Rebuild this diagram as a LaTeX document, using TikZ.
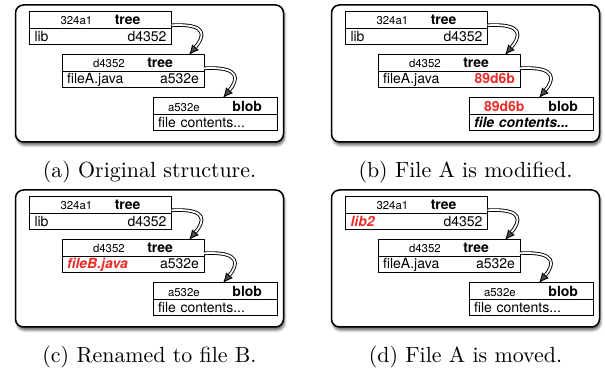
\documentclass[tikz,border=0pt]{standalone}
\usepackage{fontspec}
\setsansfont{TeX Gyre Heros}
\usetikzlibrary{positioning,calc,arrows.meta,shadows.blur}
\definecolor{chg}{RGB}{235,45,40}

\newcommand\hashfont{\fontsize{5.7}{6.5}\selectfont}
\newcommand\chgid[1]{{\fontsize{7}{8}\selectfont\bfseries\color{chg}#1}}
\newcommand\chgname[1]{{\bfseries\itshape\color{chg}#1}}

\tikzset{
  panel/.style={draw, fill=white, line width=0.75pt, rounded corners=4pt,
    blur shadow={shadow xshift=0.6pt, shadow yshift=-1.6pt,
      shadow blur radius=1.2pt, shadow opacity=60}},
  objbox/.style={draw, line width=0.5pt, outer sep=0pt, inner ysep=0pt,
    minimum height=8.25pt, anchor=north west,
    font=\sffamily\fontsize{7}{8}\selectfont},
  treehead/.style={objbox, text width=40pt, inner xsep=15.5pt},
  treerow/.style={objbox, text width=66pt, inner xsep=2.5pt},
  blobhead/.style={objbox, text width=47pt, inner xsep=7.5pt},
  blobrow/.style={objbox, text width=57pt, inner xsep=2.5pt},
  ref/.style={double, double distance=0.9pt, line width=0.45pt,
    -{Latex[length=5pt,width=4.5pt]}},
  caption/.style={font=\rmfamily\fontsize{10.95}{13}\selectfont}
}

% one panel: name, shift x, shift y, dir, file, blob id, contents, caption
\newcommand\gitpanel[8]{%
  \begin{scope}[shift={(#2,#3)}]
    \draw[panel] (15.5,5) rectangle (283.5,142);

    \node[treehead] (#1-rooth) at (29.5,12) {{\hashfont 324a1}\hfill\textbf{tree}};
    \node[treerow, below=0pt of #1-rooth] (#1-root) {#4\hfill d4352};

    \node[treehead] (#1-subh) at ($(#1-root.south west)+(32.5,10)$) {{\hashfont d4352}\hfill\textbf{tree}};
    \node[treerow, below=0pt of #1-subh] (#1-sub) {#5\hfill #6};

    \node[blobhead] (#1-blobh) at ($(#1-sub.south west)+(91,10)$) {{\hashfont #6}\hfill\textbf{blob}};
    \node[blobrow, below=0pt of #1-blobh] (#1-blob) {#7};

    \draw[ref] ($(#1-rooth.east)+(0,5)$) .. controls +(38,-2) and +(15,-18) .. ($(#1-subh.north east)+(-15,0)$);
    \draw[ref] ($(#1-subh.east)+(0,5)$) .. controls +(38,-2) and +(15,-18) .. ($(#1-blobh.north west)+(70,0)$);

    \node[caption] (#1-cap) at (149.5,172.5) {#8};
  \end{scope}}

\begin{document}
\begin{tikzpicture}[x=0.5pt, y=-0.5pt]
  \useasboundingbox (0,0) rectangle (605,373);

  \gitpanel{a}{0}{0}{lib}{fileA.java}{a532e}{file contents...}{(a) Original structure.}
  \gitpanel{b}{316}{0}{lib}{fileA.java}{\chgid{89d6b}}{\textbf{\textit{file contents...}}}{(b) File A is modified.}
  \gitpanel{c}{0}{185}{lib}{\chgname{fileB.java}}{a532e}{file contents...}{(c) Renamed to file B.}
  \gitpanel{d}{316}{185}{\chgname{lib2}}{fileA.java}{a532e}{file contents...}{(d) File A is moved.}

\end{tikzpicture}
\end{document}
